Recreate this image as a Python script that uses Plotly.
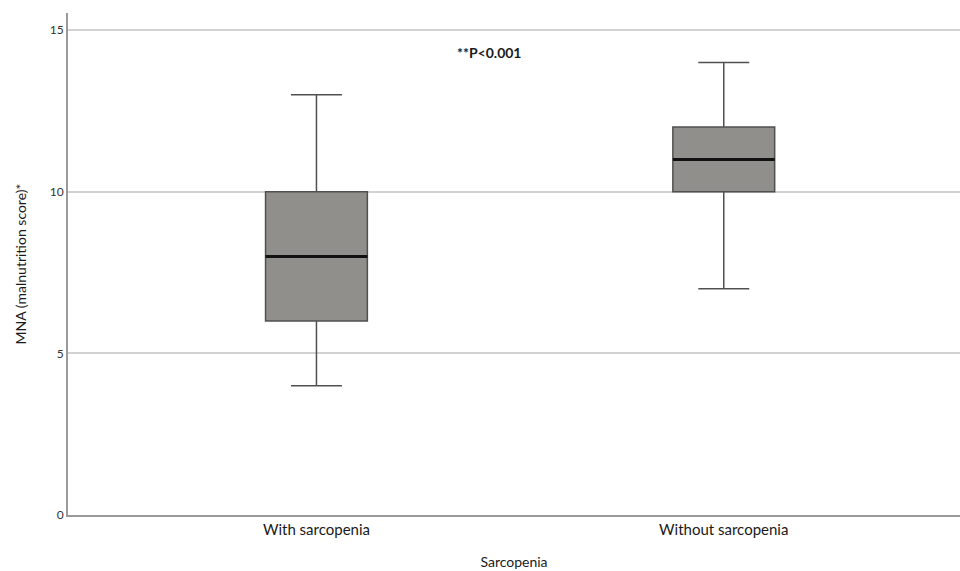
import plotly.graph_objects as go

categories = ["With sarcopenia", "Without sarcopenia"]
lower_whisker = [4, 7]
q1_values = [6, 10]
median_values = [8, 11]
q3_values = [10, 12]
upper_whisker = [13, 14]
y_tick_values = [0, 5, 10, 15]
p_label = "**P<0.001"

positions = list(range(len(categories)))
box_w = 0.25
FONT = "Lato, 'Open Sans', sans-serif"

fig = go.Figure()
fig.add_trace(go.Box(
    x=positions,
    q1=q1_values, median=median_values, q3=q3_values,
    lowerfence=lower_whisker, upperfence=upper_whisker,
    width=box_w, whiskerwidth=0.5,
    fillcolor="#918f8b",
    line=dict(color="#505050", width=1.5),
    boxpoints=False, showlegend=False, hoverinfo="skip",
))
for p, m in zip(positions, median_values):
    fig.add_trace(go.Scatter(
        x=[p - box_w / 2, p + box_w / 2], y=[m, m], mode="lines",
        line=dict(color="#111111", width=3), showlegend=False, hoverinfo="skip",
    ))

fig.add_annotation(
    x=0.424, y=14.32, xref="x", yref="y", text=f"<b>{p_label}</b>",
    showarrow=False, font=dict(family=FONT, size=14, color="#1a1a1a"),
)

fig.update_layout(
    width=960, height=571,
    margin=dict(l=68, r=0, t=13, b=56),
    paper_bgcolor="white", plot_bgcolor="white",
    font=dict(family=FONT, color="#333333"),
)
fig.update_xaxes(
    range=[-0.61, 1.58], tickmode="array", tickvals=positions, ticktext=categories,
    showgrid=False, zeroline=False, showline=True, linecolor="#9a9a9a", linewidth=2,
    ticks="", tickfont=dict(family=FONT, size=15, color="#1a1a1a"),
    title=dict(text="Sarcopenia", font=dict(family=FONT, size=14, color="#1a1a1a"), standoff=20),
)
fig.update_yaxes(
    range=[0, 15.53], tickvals=y_tick_values,
    showgrid=True, gridcolor="#d2d2d2", gridwidth=1.5, zeroline=False,
    showline=True, linecolor="#9a9a9a", linewidth=2, ticks="",
    tickfont=dict(family=FONT, size=12, color="#333333"),
    title=dict(text="MNA (malnutrition score)*", font=dict(family=FONT, size=14, color="#1a1a1a"), standoff=20),
)

fig.write_html(
    "out.html",
    config={"displayModeBar": False},
    post_script="document.body.style.margin='0';document.body.style.overflow='hidden';",
)
